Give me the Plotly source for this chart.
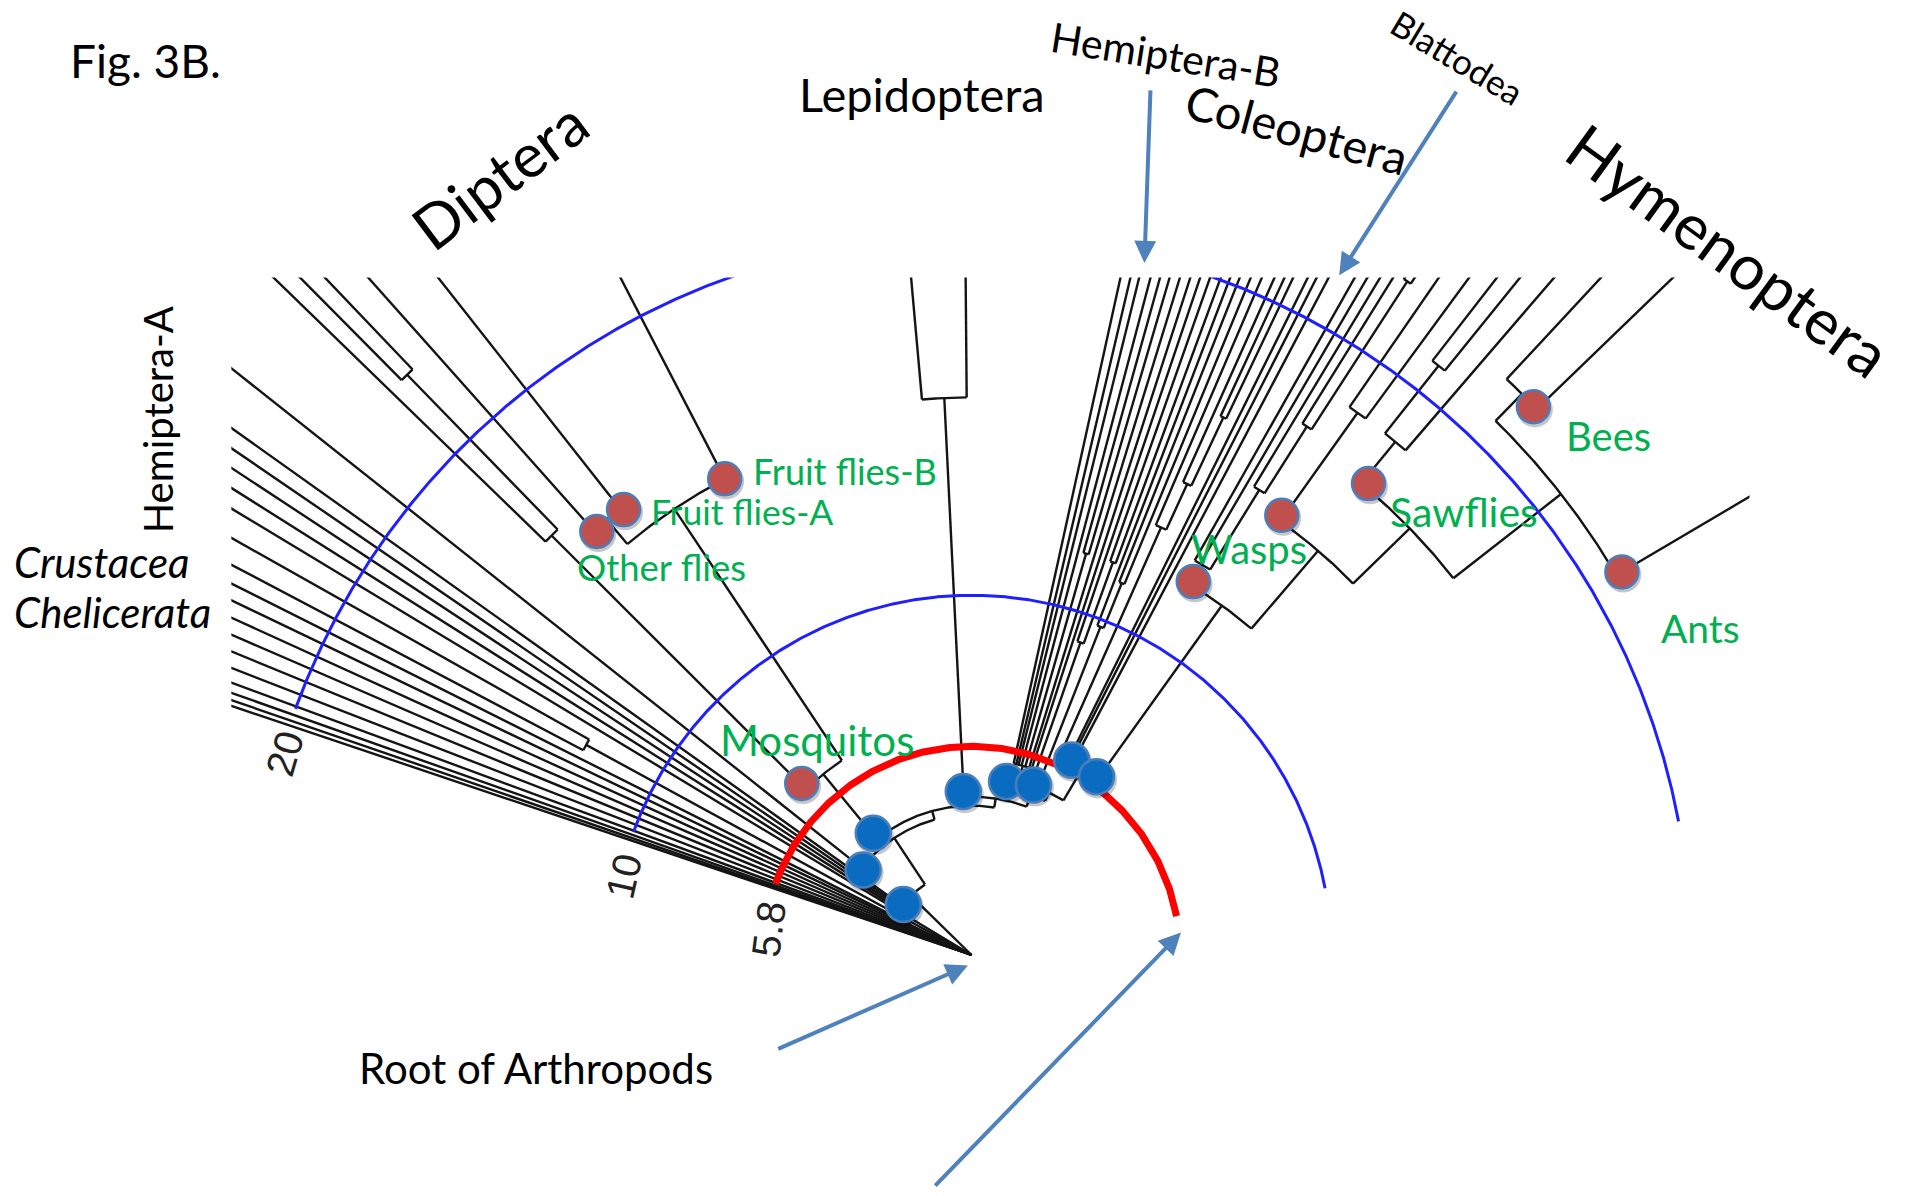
import math
import plotly.graph_objects as go

# ---------------------------------------------------------------- data
FIG_W, FIG_H = 1909, 1196
REF_W = 1568.0                    # reference units across the figure
K = FIG_W / REF_W
REF_H = FIG_H / K

ROOT = (798.0, 784.4)             # root of the radial tree (reference units)
UNIT = 29.55                      # reference units per unit of divergence
TIP_LEN = 45.0                    # tips run out past the clipping window
CLIP_LEFT, CLIP_RIGHT, CLIP_TOP = 190.0, 1437.0, 228.0

# tree: internal node = [distance from root, children...]; leaf = tip angle (deg)
outgroup_tips = [161.4, 161.0, 160.5, 159.8, 158.8, 157.7, 156.6, 155.5]
outgroup_pair_1 = [1.9, 154.4, 153.35]
outgroup_pair_2 = [12.2, 152.2, 150.6]
outgroup_single = 148.9
hemiptera_a_tips = [147.75, 146.65, 145.6, 144.55]
hemiptera_a_extra = 141.6
diptera = [6.5,
           [16.5, 135.86, [22.5, 134.75, 133.67]],
           [14.9, [15.8, 131.69, 128.22], 117.4]]
lepidoptera = [15.5, 95.1, 90.5]
coleoptera_a = [5.45, 77.6, 76.8, 76.1, 75.2, [11.6, 74.45, 73.7], 72.9, 72.1]
coleoptera_b = [5.25, [9.2, 71.35, [11.6, 70.6, 69.8]],
                [9.8, 69.1, [11.15, 68.4, 67.6]]]
coleoptera_c = [6.25, [13.0, 66.8, [14.4, 65.9, [16.5, 65.2, 64.6]]],
                63.6, 63.0, 62.2]
hymenoptera = [11.95,
               [12.6, 60.5, 59.7, [15.2, 58.9, [17.4, 58.1, [22.3, 57.4, 56.8]]]],
               [14.8, [18.5, 55.4, 53.7],
                [17.0, [18.5, [20.9, 52.2, 51.0], 49.3],
                 [20.8, [21.85, 47.1, 44.0], 30.5]]]]
backbone_dist = [2.35, 3.9, 4.15, 4.4, 4.75, 5.0, 6.0]

# scale rings
scale_values = [5.8, 10, 20]
scale_labels = ["5.8", "10", "20"]
scale_colors = ["#ff0000", "#1f1fff", "#1f1fff"]
scale_widths = [7, 3, 3]
scale_span = [10.7, 160.0]

# highlighted nodes (distance, angle)
red_r = [6.71, 15.72, 15.71, 14.91, 12.07, 14.96, 17.13, 21.82, 20.98]
red_theta = [134.7, 131.5, 128.0, 117.4, 59.3, 54.8, 49.9, 44.3, 30.5]
blue_r = [2.36, 3.83, 4.35, 4.55, 4.92, 5.03, 6.09, 6.05]
blue_theta = [143.5, 141.9, 128.9, 92.9, 78.6, 70.0, 62.8, 54.95]

# text labels
black_text = ["Fig. 3B.", "Diptera", "Lepidoptera", "Hemiptera-B", "Coleoptera",
              "Blattodea", "Hymenoptera", "Hemiptera-A", "Crustacea",
              "Chelicerata", "Root of Arthropods"]
black_x = [56, 410, 757, 958, 1065, 1197, 1420, 130, 10, 10, 293]
black_y = [50, 143, 77, 45, 106, 47, 205, 345, 462, 503, 877]
black_anchor = ["left", "center", "center", "center", "center", "center",
                "center", "center", "left", "left", "left"]
black_size = [46, 61, 47, 41, 47, 35, 63, 40, 42, 42, 42]
black_angle = [0, -37, 0, 9, 15, 31, 36, -90, 0, 0, 0]
black_italic = [False] * 8 + [True, True, False]

green_text = ["Fruit flies-B", "Fruit flies-A", "Other flies", "Mosquitos",
              "Wasps", "Sawflies", "Bees", "Ants"]
green_x = [617, 533, 472, 590, 977, 1140, 1285, 1363]
green_y = [387, 420, 466, 608, 451, 420, 358, 516]
green_size = [36, 35.5, 36.5, 42, 40, 41, 40, 39]

# arrows: tail -> head
arrow_tail = [(945, 73), (1197, 74), (638, 862), (767, 975)]
arrow_head = [(940, 216), (1100, 226), (795, 793), (970, 766)]

# ---------------------------------------------------------------- tree assembly
n67 = [backbone_dist[6], coleoptera_c, hymenoptera]
i6 = [backbone_dist[5], coleoptera_b, n67]
i5 = [backbone_dist[4], coleoptera_a, i6]
i4 = [backbone_dist[3], lepidoptera, i5]
i3 = [backbone_dist[2], diptera, i4]
i2 = [backbone_dist[1], hemiptera_a_extra, i3]
i1 = [backbone_dist[0]] + hemiptera_a_tips + [i2]
tree = [0.0] + outgroup_tips + [outgroup_pair_1, outgroup_pair_2, outgroup_single, i1]


def to_xy(r, theta):
    t = math.radians(theta)
    return ROOT[0] + r * UNIT * math.cos(t), ROOT[1] - r * UNIT * math.sin(t)


def add_arc(r, lo, hi, xs, ys, step=0.2):
    n = max(2, int((hi - lo) / step) + 2)
    for k in range(n):
        x, y = to_xy(r, lo + (hi - lo) * k / (n - 1))
        xs.append(x)
        ys.append(y)
    xs.append(None)
    ys.append(None)


def layout(node, xs, ys):
    if not isinstance(node, list):
        return float(node), TIP_LEN
    r = node[0]
    kids = [layout(c, xs, ys) for c in node[1:]]
    angs = [a for a, _ in kids]
    lo, hi = min(angs), max(angs)
    if r > 0 and hi > lo:
        add_arc(r, lo, hi, xs, ys)
    for a, rr in kids:
        x0, y0 = to_xy(r, a)
        x1, y1 = to_xy(rr, a)
        xs += [x0, x1, None]
        ys += [y0, y1, None]
    return (lo + hi) / 2.0, r


tx, ty = [], []
layout(tree, tx, ty)

fig = go.Figure()

# tree
fig.add_trace(go.Scatter(x=tx, y=ty, mode="lines",
                         line=dict(color="#141414", width=2.4),
                         hoverinfo="skip", showlegend=False, xaxis="x", yaxis="y"))

# scale rings drawn over the branches
for val, col, w in zip(scale_values, scale_colors, scale_widths):
    ax_, ay_ = [], []
    add_arc(val, scale_span[0], scale_span[1], ax_, ay_, step=0.1)
    fig.add_trace(go.Scatter(x=ax_, y=ay_, mode="lines",
                             line=dict(color=col, width=w), hoverinfo="skip",
                             showlegend=False, xaxis="x", yaxis="y"))


# node markers with a soft shadow
def dots(rs, ths, fill, size):
    pts = [to_xy(r, t) for r, t in zip(rs, ths)]
    xs = [p[0] for p in pts]
    ys = [p[1] for p in pts]
    fig.add_trace(go.Scatter(x=[x + 1.2 for x in xs], y=[y + 2.2 for y in ys],
                             mode="markers",
                             marker=dict(size=size + 3, color="rgba(0,0,0,0.22)",
                                         line=dict(width=0)),
                             hoverinfo="skip", showlegend=False,
                             xaxis="x", yaxis="y"))
    fig.add_trace(go.Scatter(x=xs, y=ys, mode="markers",
                             marker=dict(size=size, color=fill,
                                         line=dict(color="#4a7ebb", width=2.5)),
                             hoverinfo="skip", showlegend=False,
                             xaxis="x", yaxis="y"))


dots(blue_r, blue_theta, "#0a6cc0", 35)
dots(red_r, red_theta, "#c0504d", 33)

# invisible anchor trace for the full-page axes
fig.add_trace(go.Scatter(x=[0], y=[0], mode="markers", marker=dict(opacity=0),
                         hoverinfo="skip", showlegend=False, xaxis="x2", yaxis="y2"))

ann = []
FONT = "Lato, 'Open Sans', sans-serif"
for t, x, y, a, s, ang, it in zip(black_text, black_x, black_y, black_anchor,
                                  black_size, black_angle, black_italic):
    ann.append(dict(text=t, x=x, y=y, xref="x2", yref="y2", showarrow=False,
                    xanchor=a, yanchor="middle", textangle=ang,
                    font=dict(family=FONT, size=s, color="black",
                              style="italic" if it else "normal")))
for t, x, y, s in zip(green_text, green_x, green_y, green_size):
    ann.append(dict(text=t, x=x, y=y, xref="x2", yref="y2", showarrow=False,
                    xanchor="left", yanchor="middle",
                    font=dict(family=FONT, size=s, color="#00b050")))

# scale labels just past the end of each ring
for val, lab in zip(scale_values, scale_labels):
    rad = val * UNIT - 3
    ang = scale_span[1] + math.degrees(37.0 / rad)
    t = math.radians(ang)
    ann.append(dict(text=lab, x=ROOT[0] + rad * math.cos(t),
                    y=ROOT[1] - rad * math.sin(t), xref="x2", yref="y2",
                    showarrow=False, xanchor="center", yanchor="middle",
                    textangle=-(ang - 90),
                    font=dict(family="Liberation Sans, Arial, sans-serif",
                              size=40, color="#222222")))

for (x0, y0), (x1, y1) in zip(arrow_tail, arrow_head):
    ann.append(dict(text="", x=x1, y=y1, ax=x0, ay=y0, xref="x2", yref="y2",
                    axref="x2", ayref="y2", showarrow=True, arrowhead=2,
                    arrowsize=1.1, arrowwidth=4, arrowcolor="#4f81bd"))

fig.update_layout(
    width=FIG_W, height=FIG_H, autosize=False,
    margin=dict(l=0, r=0, t=0, b=0, pad=0),
    paper_bgcolor="white", plot_bgcolor="rgba(0,0,0,0)",
    xaxis=dict(domain=[CLIP_LEFT / REF_W, CLIP_RIGHT / REF_W],
               range=[CLIP_LEFT, CLIP_RIGHT], visible=False, fixedrange=True),
    yaxis=dict(domain=[0, 1 - CLIP_TOP / REF_H], range=[REF_H, CLIP_TOP],
               visible=False, fixedrange=True),
    xaxis2=dict(domain=[0, 1], range=[0, REF_W], visible=False, anchor="y2",
                fixedrange=True),
    yaxis2=dict(domain=[0, 1], range=[REF_H, 0], visible=False, anchor="x2",
                fixedrange=True),
    annotations=ann,
    showlegend=False,
)

fig.write_html("out.html", config={"displayModeBar": False},
               post_script="document.body.style.margin='0px';")
